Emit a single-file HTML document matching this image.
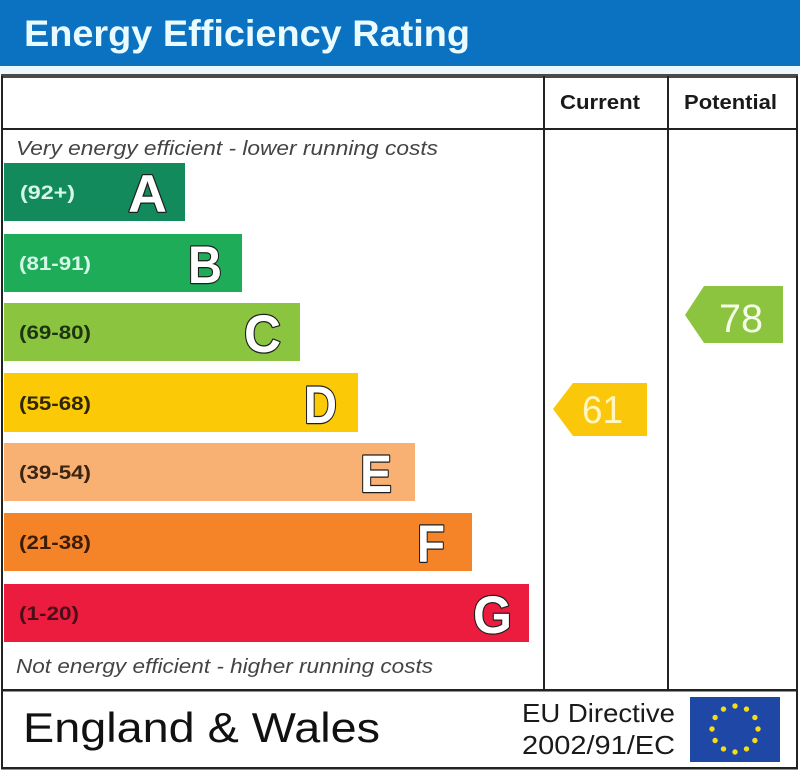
<!DOCTYPE html>
<html>
<head>
<meta charset="utf-8">
<style>
  html,body{margin:0;padding:0;background:#fff;}
  svg{display:block;}
  svg text{font-family:"Liberation Sans",Arial,sans-serif;}
</style>
</head>
<body>
<svg width="800" height="776" viewBox="0 0 800 776" xmlns="http://www.w3.org/2000/svg" font-family="'Liberation Sans', Arial, sans-serif">
  <rect x="0" y="0" width="800" height="776" fill="#ffffff"/>
  <!-- Title band -->
  <rect x="0" y="0" width="800" height="66" fill="#0b72c2"/>
  <rect x="0" y="66" width="800" height="8" fill="#eef7fb"/>
  <text x="24" y="46" font-size="37.5" font-weight="bold" fill="#e9fbff" textLength="446" lengthAdjust="spacingAndGlyphs">Energy Efficiency Rating</text>

  <!-- Table frame -->
  <rect x="1" y="74" width="797" height="4" fill="#4a4a4a"/>
  <rect x="1" y="76" width="2" height="693" fill="#222"/>
  <rect x="796" y="76" width="2" height="693" fill="#222"/>
  <rect x="1" y="128" width="797" height="2" fill="#222"/>
  <rect x="1" y="689" width="797" height="2.5" fill="#222"/>
  <rect x="1" y="767" width="797" height="2.5" fill="#222"/>
  <rect x="543" y="76" width="2" height="614" fill="#222"/>
  <rect x="667" y="76" width="2" height="614" fill="#222"/>

  <!-- Column headers -->
  <text x="560" y="109" font-size="20.5" font-weight="bold" fill="#1a1a1a" textLength="80" lengthAdjust="spacingAndGlyphs">Current</text>
  <text x="684" y="109" font-size="20.5" font-weight="bold" fill="#1a1a1a" textLength="93" lengthAdjust="spacingAndGlyphs">Potential</text>

  <!-- Top/bottom captions -->
  <text x="16" y="155" font-size="20" font-style="italic" fill="#444" textLength="422" lengthAdjust="spacingAndGlyphs">Very energy efficient - lower running costs</text>
  <text x="16" y="673" font-size="20" font-style="italic" fill="#444" textLength="417" lengthAdjust="spacingAndGlyphs">Not energy efficient - higher running costs</text>

  <!-- Bars -->
  <rect x="4" y="163" width="181" height="58" fill="#138a5b"/>
  <rect x="4" y="234" width="238" height="58" fill="#1fac59"/>
  <rect x="4" y="303" width="296" height="58" fill="#8bc43f"/>
  <rect x="4" y="373" width="354" height="59" fill="#fbc906"/>
  <rect x="4" y="443" width="411" height="58" fill="#f8b172"/>
  <rect x="4" y="513" width="468" height="58" fill="#f48427"/>
  <rect x="4" y="584" width="525" height="58" fill="#eb1c3d"/>

  <!-- Range labels -->
  <g font-size="19" font-weight="bold">
    <text x="20" y="199" fill="#d4f8e8" textLength="55" lengthAdjust="spacingAndGlyphs">(92+)</text>
    <text x="19" y="270" fill="#d4f8e8" textLength="72" lengthAdjust="spacingAndGlyphs">(81-91)</text>
    <text x="19" y="339" fill="#1c3510" textLength="72" lengthAdjust="spacingAndGlyphs">(69-80)</text>
    <text x="19" y="410" fill="#2e2600" textLength="72" lengthAdjust="spacingAndGlyphs">(55-68)</text>
    <text x="19" y="479" fill="#3a2412" textLength="72" lengthAdjust="spacingAndGlyphs">(39-54)</text>
    <text x="19" y="549" fill="#3a1c08" textLength="72" lengthAdjust="spacingAndGlyphs">(21-38)</text>
    <text x="19" y="620" fill="#4a0e18" textLength="60" lengthAdjust="spacingAndGlyphs">(1-20)</text>
  </g>

  <!-- Band letters -->
  <g font-size="53" font-weight="bold" fill="#ffffff" stroke="#1e1e1e" stroke-width="2.4" paint-order="stroke" stroke-linejoin="round">
    <text x="128" y="212" textLength="39" lengthAdjust="spacingAndGlyphs">A</text>
    <text x="188" y="283" textLength="34" lengthAdjust="spacingAndGlyphs">B</text>
    <text x="244" y="352" textLength="37" lengthAdjust="spacingAndGlyphs">C</text>
    <text x="304" y="423" textLength="33" lengthAdjust="spacingAndGlyphs">D</text>
    <text x="360" y="492" textLength="32" lengthAdjust="spacingAndGlyphs">E</text>
    <text x="417" y="562" textLength="28" lengthAdjust="spacingAndGlyphs">F</text>
    <text x="473" y="633" textLength="39" lengthAdjust="spacingAndGlyphs">G</text>
  </g>

  <!-- Current arrow (61) -->
  <polygon points="553,409 573,383 647,383 647,436 573,436" fill="#fbc70b"/>
  <text x="582" y="423" font-size="38.5" fill="#fff6c0" textLength="41" lengthAdjust="spacingAndGlyphs">61</text>

  <!-- Potential arrow (78) -->
  <polygon points="685,315 704,286 783,286 783,343 704,343" fill="#8cc43f"/>
  <text x="719" y="332" font-size="40" fill="#f4ffe8" textLength="44" lengthAdjust="spacingAndGlyphs">78</text>

  <!-- Footer -->
  <text x="23" y="742" font-size="42" fill="#111" textLength="357" lengthAdjust="spacingAndGlyphs">England &amp; Wales</text>
  <text x="522" y="722" font-size="26" fill="#1a1a1a" textLength="153" lengthAdjust="spacingAndGlyphs">EU Directive</text>
  <text x="522" y="754" font-size="26" fill="#1a1a1a" textLength="153" lengthAdjust="spacingAndGlyphs">2002/91/EC</text>

  <!-- EU flag -->
  <rect x="690" y="697" width="90" height="65" fill="#1f47a6"/>
  <g fill="#f5dc1a">
    <circle cx="735" cy="706" r="2.7"/>
    <circle cx="746.5" cy="709.1" r="2.7"/>
    <circle cx="754.9" cy="717.5" r="2.7"/>
    <circle cx="758" cy="729" r="2.7"/>
    <circle cx="754.9" cy="740.5" r="2.7"/>
    <circle cx="746.5" cy="748.9" r="2.7"/>
    <circle cx="735" cy="752" r="2.7"/>
    <circle cx="723.5" cy="748.9" r="2.7"/>
    <circle cx="715.1" cy="740.5" r="2.7"/>
    <circle cx="712" cy="729" r="2.7"/>
    <circle cx="715.1" cy="717.5" r="2.7"/>
    <circle cx="723.5" cy="709.1" r="2.7"/>
  </g>
</svg>
</body>
</html>
